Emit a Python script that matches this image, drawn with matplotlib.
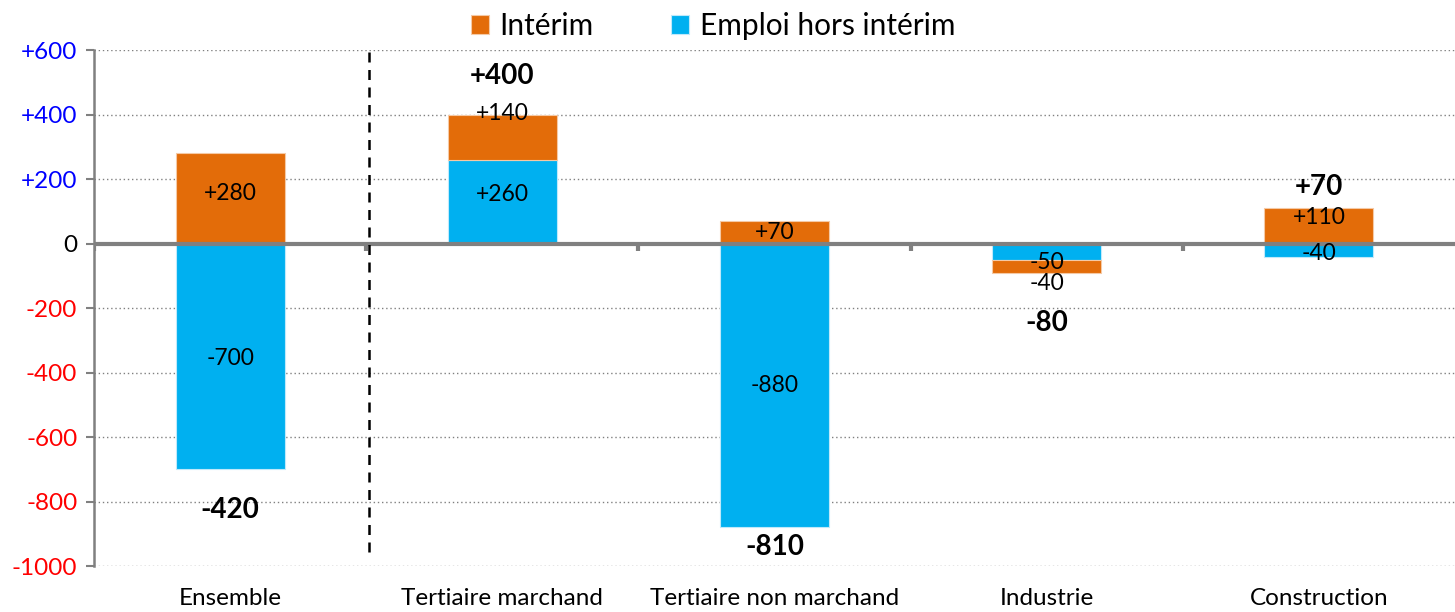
import numpy as np
import matplotlib.pyplot as plt

# ===== DATA =====
categories = ["Ensemble", "Tertiaire marchand", "Tertiaire non marchand", "Industrie", "Construction"]
interim = [280, 140, 70, -40, 110]
emploi = [-700, 260, -880, -50, -40]
total_labels = ["-420", "+400", "-810", "-80", "+70"]
yticks = [600, 400, 200, 0, -200, -400, -600, -800, -1000]

# ===== STYLE =====
plt.rcParams['font.family'] = ['Lato', 'DejaVu Sans']
c_interim = "#E36C09"
c_emploi = "#00B0F0"

# label nudges (pixels) : emploi, interim, total
dy_emploi = [-2, 7, 0, -11, -3]
dy_interim = [5, 24, 0, -17, 8]
dy_total = [-41, 39, -20, -50, 21]

fig = plt.figure(figsize=(14.55, 6.12), dpi=100)
ax = fig.add_axes([0.0646, 0.075, 0.9354, 0.843])

x = np.arange(len(categories))
w = 0.4
emploi = np.array(emploi)
interim = np.array(interim)
bottom_i = np.where(np.sign(interim) == np.sign(emploi), emploi, 0)

ax.bar(x, emploi, w, color=c_emploi, edgecolor="#BFE9FB", linewidth=0.8, zorder=3,
       label="Emploi hors intérim")
ax.bar(x, interim, w, bottom=bottom_i, color=c_interim, edgecolor="#F5C9A5", linewidth=0.8,
       zorder=3, label="Intérim")

def fmt(v):
    return f"+{v}" if v > 0 else f"{v}"

for i in range(len(categories)):
    ax.annotate(fmt(emploi[i]), (x[i], emploi[i] / 2), xytext=(0, dy_emploi[i]),
                textcoords="offset pixels", ha="center", va="center", fontsize=16.5, zorder=5)
    ax.annotate(fmt(interim[i]), (x[i], bottom_i[i] + interim[i] / 2), xytext=(0, dy_interim[i]),
                textcoords="offset pixels", ha="center", va="center", fontsize=16.5, zorder=5)
    pos = max(0, interim[i]) + max(0, emploi[i])
    neg = min(0, interim[i]) + min(0, emploi[i])
    ref = pos if dy_total[i] > 0 else neg
    ax.annotate(total_labels[i], (x[i], ref), xytext=(0, dy_total[i]),
                textcoords="offset pixels", ha="center", va="center", fontsize=20,
                fontweight="bold", zorder=5)

# axes
ax.set_xlim(-0.5, len(categories) - 0.5)
ax.set_ylim(-1000, 600)
ax.set_yticks(yticks)
ax.set_yticklabels([fmt(v) for v in yticks], fontsize=17.5)
for lab, v in zip(ax.get_yticklabels(), yticks):
    lab.set_color("#0000FF" if v > 0 else ("#FF0000" if v < 0 else "black"))
ax.yaxis.grid(True, linestyle=(0, (1, 2)), color="#808080", linewidth=1, zorder=0)
ax.tick_params(axis="y", length=6, width=1.5, color="#808080", pad=6)

ax.set_xticks(x)
ax.set_xticklabels(categories, fontsize=17.5)
ax.tick_params(axis="x", length=0, pad=16)

for s in ["top", "right", "bottom"]:
    ax.spines[s].set_visible(False)
ax.spines["left"].set_color("#808080")
ax.spines["left"].set_linewidth(1.8)

ax.axhline(0, color="#808080", linewidth=3, zorder=4)
ax.vlines(np.arange(len(categories)) - 0.5, -22, 0, color="#808080", linewidth=3, zorder=4)
ax.vlines(0.51, -955, 600, color="black", linestyle=(0, (4, 3)), linewidth=1.8, zorder=4)

h, l = ax.get_legend_handles_labels()
fig.legend(h[::-1], l[::-1], loc="upper center", bbox_to_anchor=(0.49, 1.025), ncol=2,
           frameon=False, fontsize=21.5, handlelength=0.6, handleheight=0.6,
           columnspacing=2.6, handletextpad=0.35)

plt.savefig("out.png")
